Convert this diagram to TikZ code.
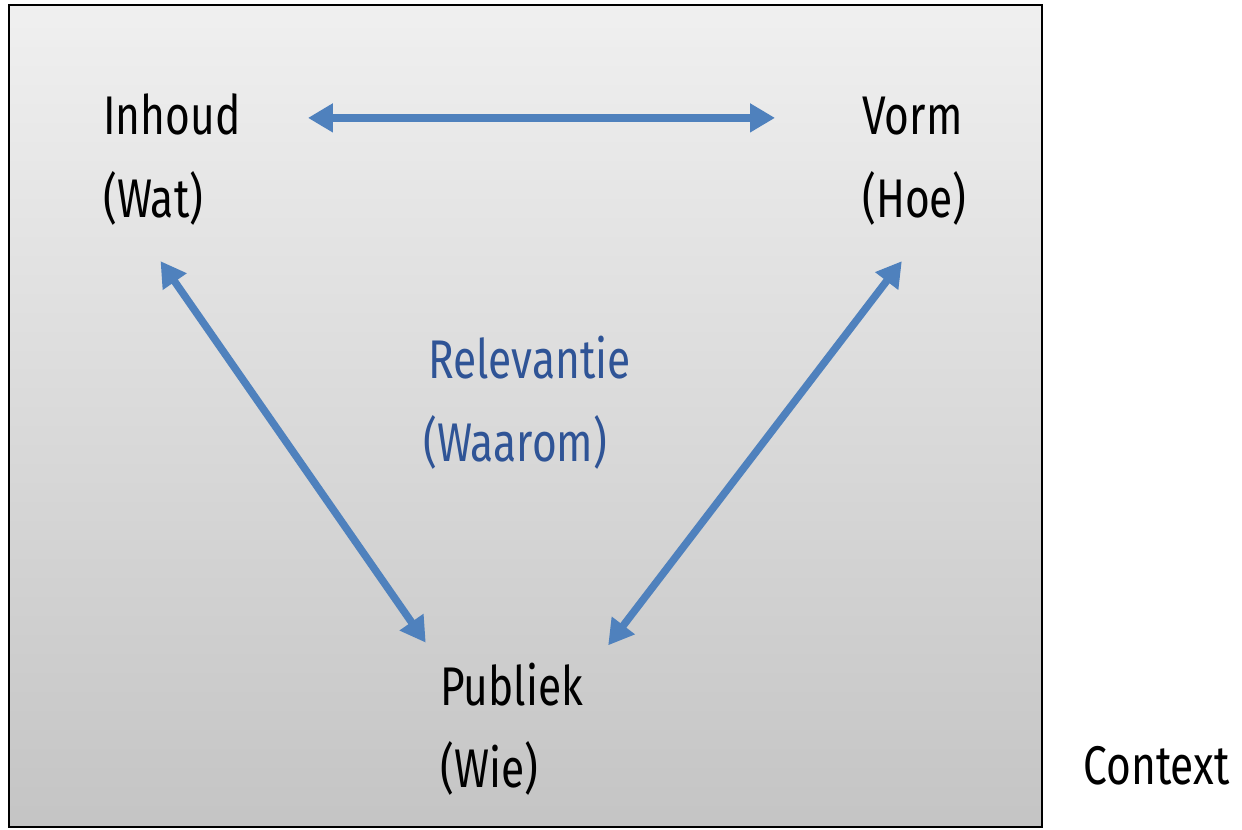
\documentclass[tikz,border=0pt]{standalone}
\usepackage{fontspec}
\setmainfont[FakeStretch=0.78]{Fira Sans}
\usepackage{tikz}
\usetikzlibrary{arrows.meta, calc}
\definecolor{linkblue}{HTML}{4F81BD}
\definecolor{labelblue}{HTML}{2F5496}

\begin{document}
\begin{tikzpicture}[x=0.02cm, y=-0.02cm, font=\fontsize{31}{37}\selectfont]
\tikzset{
    label/.style={anchor=base west, inner sep=0pt, text=black},
    core/.style={label, text=labelblue},
    link/.style={draw=linkblue, line width=0.15cm, {Triangle[length=0.5cm, width=0.55cm]}-{Triangle[length=0.5cm, width=0.55cm]}}
}
\useasboundingbox (0,0) rectangle (1242,830);
\shade[top color=gray!12, bottom color=gray!46, draw=black, line width=0.05cm] (9,5) rectangle (1042,827);
\node[label] (inhoud) at (103,135) {Inhoud}; \node[label] (wat) at (103,218) {(Wat)};
\node[label] (vorm) at (862,135) {Vorm}; \node[label] (hoe) at (862,218) {(Hoe)};
\node[label] (publiek) at (440,706) {Publiek}; \node[label] (wie) at (440,788) {(Wie)};
\node[core] (relevantie) at (428,379) {Relevantie}; \node[core] (waarom) at (423,462) {(Waarom)};
\node[label] (context) at (1083,785) {Context};
\draw[link, shorten <=1.34cm, shorten >=1.74cm] ([yshift=-0.06cm]inhoud.east) -- ([yshift=-0.06cm]inhoud.east -| vorm.west);
\draw[link, shorten <=0.85cm, shorten >=0.5cm] ([xshift=-0.34cm]wat.south) -- (publiek.north west);
\draw[link, shorten <=0.88cm, shorten >=0.45cm] ([xshift=0.28cm]hoe.south) -- ([xshift=0.22cm]publiek.north east);
\end{tikzpicture}
\end{document}
